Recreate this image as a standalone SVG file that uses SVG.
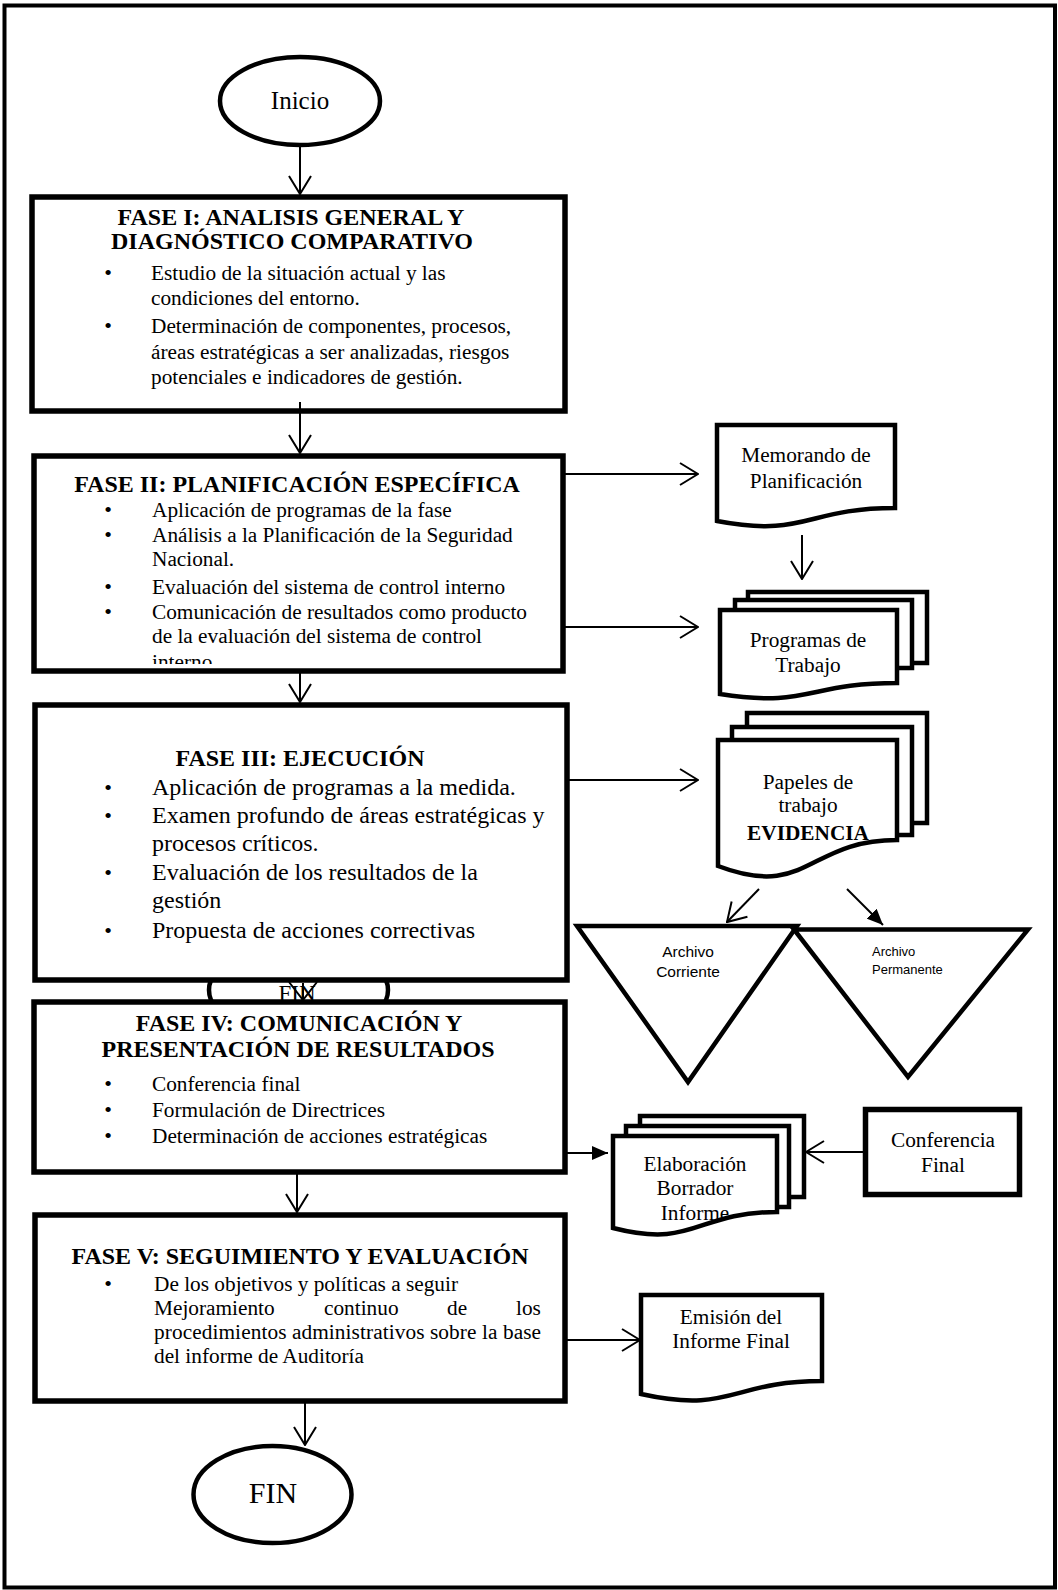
<svg xmlns="http://www.w3.org/2000/svg" width="1058" height="1590" viewBox="0 0 1058 1590">
<defs>
<marker id="open" viewBox="0 0 20 24" refX="19" refY="12" markerWidth="20" markerHeight="24" orient="auto" markerUnits="userSpaceOnUse"><path d="M1,1 L19,12 L1,23" fill="none" stroke="#000" stroke-width="2"/></marker>
<marker id="openBig" viewBox="0 0 20 30" refX="19" refY="15" markerWidth="20" markerHeight="30" orient="auto" markerUnits="userSpaceOnUse"><path d="M1,1 L19,15 L1,29" fill="none" stroke="#000" stroke-width="2"/></marker>
<marker id="solid" viewBox="0 0 16 14" refX="16" refY="7" markerWidth="16" markerHeight="14" orient="auto" markerUnits="userSpaceOnUse"><path d="M0,0 L16,7 L0,14 Z" fill="#000"/></marker>
<clipPath id="clip2"><rect x="36" y="458" width="525" height="206"/></clipPath>
</defs>
<style>
.frame{fill:none;stroke:#000;stroke-width:4}
.box{fill:#fff;stroke:#000;stroke-width:5.5}
.shape{fill:#fff;stroke:#000;stroke-width:4.5}
.t{font-family:"Liberation Serif","Times New Roman",serif;fill:#000}
.h{font-weight:bold;font-size:24px;text-anchor:middle}
.b{font-size:21.3px}
.b3{font-size:24px}
.bl{text-anchor:middle;font-size:22px}
.c{text-anchor:middle;font-size:21.3px}
.s{font-family:"Liberation Sans",Arial,sans-serif;fill:#000}
.ln{stroke:#000;stroke-width:2;fill:none}
.ao{marker-end:url(#open)}
.as{marker-end:url(#solid)}
</style>
<rect class="frame" x="4.5" y="5.5" width="1050.5" height="1582"/>

<g id="inicio">
<ellipse class="shape" cx="300" cy="101" rx="80" ry="44"/>
<text class="t" x="300" y="109" font-size="25" text-anchor="middle">Inicio</text>
</g>

<g id="fase1">
<rect class="box" x="32" y="197" width="533" height="214"/>
<text class="t h" x="291" y="225">FASE I: ANALISIS GENERAL Y</text>
<text class="t h" x="292" y="249">DIAGNÓSTICO COMPARATIVO</text>
<g class="t b">
<text class="bl" x="108" y="280">•</text><text x="151" y="280">Estudio de la situación actual y las</text>
<text x="151" y="305">condiciones del entorno.</text>
<text class="bl" x="108" y="333">•</text><text x="151" y="333">Determinación de componentes, procesos,</text>
<text x="151" y="359">áreas estratégicas a ser analizadas, riesgos</text>
<text x="151" y="384">potenciales e indicadores de gestión.</text>
</g>
</g>

<g id="fase2">
<rect class="box" x="34" y="456" width="529" height="215"/>
<text class="t h" x="297" y="492">FASE II: PLANIFICACIÓN ESPECÍFICA</text>
<g class="t b" clip-path="url(#clip2)">
<text class="bl" x="108" y="517">•</text><text x="152" y="517">Aplicación de programas de la fase</text>
<text class="bl" x="108" y="542">•</text><text x="152" y="542">Análisis a la Planificación de la Seguridad</text>
<text x="152" y="566">Nacional.</text>
<text class="bl" x="108" y="594">•</text><text x="152" y="594">Evaluación del sistema de control interno</text>
<text class="bl" x="108" y="619">•</text><text x="152" y="619">Comunicación de resultados como producto</text>
<text x="152" y="643">de la evaluación del sistema de control</text>
<text x="152" y="669">interno</text>
</g>
</g>

<g id="fin-hidden">
<rect class="shape" x="209" y="965" width="179" height="50" rx="25"/>
<text class="t" x="297" y="1001" font-size="23" text-anchor="middle">FIN</text>
</g>

<g id="fase3">
<rect class="box" x="35" y="705" width="532" height="275"/>
<text class="t h" x="300" y="766">FASE III: EJECUCIÓN</text>
<g class="t b3">
<text class="bl" x="108" y="795">•</text><text x="152" y="795">Aplicación de programas a la medida.</text>
<text class="bl" x="108" y="823">•</text><text x="152" y="823">Examen profundo de áreas estratégicas y</text>
<text x="152" y="851">procesos críticos.</text>
<text class="bl" x="108" y="880">•</text><text x="152" y="880">Evaluación de los resultados de la</text>
<text x="152" y="908">gestión</text>
<text class="bl" x="108" y="938">•</text><text x="152" y="938">Propuesta de acciones correctivas</text>
</g>
</g>

<g id="fase4">
<rect class="box" x="34" y="1002" width="531" height="170"/>
<text class="t h" x="299" y="1031">FASE IV: COMUNICACIÓN Y</text>
<text class="t h" x="298" y="1057">PRESENTACIÓN DE RESULTADOS</text>
<g class="t b">
<text class="bl" x="108" y="1091">•</text><text x="152" y="1091">Conferencia final</text>
<text class="bl" x="108" y="1117">•</text><text x="152" y="1117">Formulación de Directrices</text>
<text class="bl" x="108" y="1143">•</text><text x="152" y="1143">Determinación de acciones estratégicas</text>
</g>
</g>

<g id="fase5">
<rect class="box" x="35" y="1215" width="530" height="186"/>
<text class="t h" x="300" y="1264">FASE V: SEGUIMIENTO Y EVALUACIÓN</text>
<g class="t b">
<text class="bl" x="108" y="1291">•</text><text x="154" y="1291">De los objetivos y políticas a seguir</text>
<text x="154" y="1315">Mejoramiento</text><text x="324" y="1315">continuo</text><text x="447" y="1315">de</text><text x="516" y="1315">los</text>
<text x="154" y="1339" textLength="387">procedimientos administrativos sobre la base</text>
<text x="154" y="1363">del informe de Auditoría</text>
</g>
</g>

<g id="fin">
<ellipse class="shape" cx="272.5" cy="1494.5" rx="79" ry="48.5" stroke-width="5"/>
<text class="t" x="273" y="1503" font-size="30" text-anchor="middle">FIN</text>
</g>

<g id="memorando">
<path class="shape" d="M717,425 H895 V508 C806,508 806,538 717,521 Z"/>
<text class="t c" x="806" y="462">Memorando de</text>
<text class="t c" x="806" y="488">Planificación</text>
</g>

<g id="programas">
<rect class="shape" x="748" y="592" width="179" height="71"/>
<rect class="shape" x="735" y="600" width="177" height="68"/>
<path class="shape" d="M720,610 H897 V683 C808.5,683 808.5,708 720,694 Z"/>
<text class="t c" x="808" y="647">Programas de</text>
<text class="t c" x="808" y="672">Trabajo</text>
</g>

<g id="papeles">
<rect class="shape" x="747" y="713" width="180" height="110"/>
<rect class="shape" x="732" y="727" width="180" height="108"/>
<path class="shape" d="M718,740 H897 V840 C807.5,840 807.5,900 718,866 Z"/>
<text class="t c" x="808" y="789">Papeles de</text>
<text class="t c" x="808" y="812">trabajo</text>
<text class="t c" x="808" y="840" font-weight="bold">EVIDENCIA</text>
</g>

<g id="archivo-corriente">
<path class="shape" d="M577,926 L797,926 L688,1082 Z" stroke-width="5"/>
<text class="s" x="688" y="957" font-size="15.5" text-anchor="middle">Archivo</text>
<text class="s" x="688" y="977" font-size="15.5" text-anchor="middle">Corriente</text>
</g>

<g id="archivo-permanente">
<path class="shape" d="M794,929.5 L1028,929.5 L908,1077 Z" stroke-width="5"/>
<text class="s" x="872" y="956" font-size="13">Archivo</text>
<text class="s" x="872" y="974" font-size="13">Permanente</text>
</g>

<g id="elaboracion">
<rect class="shape" x="640" y="1116" width="164" height="81"/>
<rect class="shape" x="626" y="1126" width="163" height="81"/>
<path class="shape" d="M613,1136 H777 V1212 C695,1212 695,1249 613,1228 Z"/>
<text class="t c" x="695" y="1171">Elaboración</text>
<text class="t c" x="695" y="1195">Borrador</text>
<text class="t c" x="695" y="1220">Informe</text>
</g>

<g id="conferencia">
<rect class="box" x="865.5" y="1109.5" width="154" height="85" stroke-width="5"/>
<text class="t c" x="943" y="1147">Conferencia</text>
<text class="t c" x="943" y="1172">Final</text>
</g>

<g id="emision">
<path class="shape" d="M641,1295 H822 V1381 C731.5,1381 731.5,1414 641,1394 Z"/>
<text class="t c" x="731" y="1324">Emisión del</text>
<text class="t c" x="731" y="1348">Informe Final</text>
</g>

<g id="connectors">
<path class="ln ao" d="M300,146 V194"/>
<path class="ln ao" d="M300,402 V453"/>
<path class="ln ao" d="M300,671 V702"/>
<path class="ln" d="M303,983 V1000" marker-end="url(#openBig)"/>
<path class="ln ao" d="M297,1172 V1212"/>
<path class="ln ao" d="M305,1402 V1445"/>
<path class="ln ao" d="M563,474 H698"/>
<path class="ln ao" d="M563,627 H698"/>
<path class="ln ao" d="M802,535 V579"/>
<path class="ln ao" d="M567,780 H698"/>
<path class="ln ao" d="M759,889 L727,922"/>
<path class="ln as" d="M847,889 L883,925"/>
<path class="ln as" d="M565,1153 H608"/>
<path class="ln ao" d="M865,1152 H806"/>
<path class="ln ao" d="M565,1340 H640"/>
</g>
</svg>
